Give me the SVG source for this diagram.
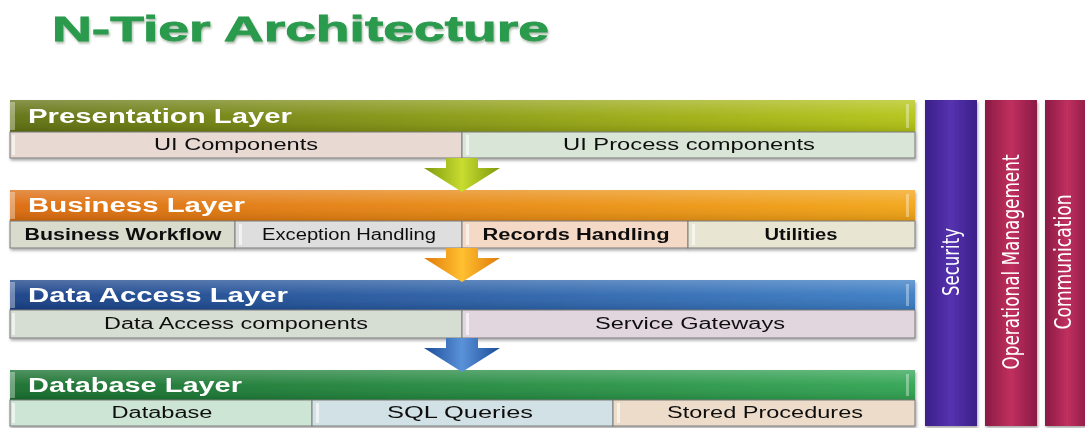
<svg xmlns="http://www.w3.org/2000/svg" width="1085" height="428" viewBox="0 0 1085 428">
<defs>
<linearGradient id="gPres" x1="0" y1="0" x2="1" y2="0"><stop offset="0" stop-color="#5f7010"/><stop offset="1" stop-color="#b4c414"/></linearGradient>
<linearGradient id="gBus" x1="0" y1="0" x2="1" y2="0"><stop offset="0" stop-color="#dc6a0c"/><stop offset="1" stop-color="#f2a414"/></linearGradient>
<linearGradient id="gData" x1="0" y1="0" x2="1" y2="0"><stop offset="0" stop-color="#173f86"/><stop offset="1" stop-color="#3a7cc4"/></linearGradient>
<linearGradient id="gDb" x1="0" y1="0" x2="1" y2="0"><stop offset="0" stop-color="#166e2c"/><stop offset="1" stop-color="#30a452"/></linearGradient>
<linearGradient id="gShine" x1="0" y1="0" x2="0" y2="1"><stop offset="0" stop-color="#fff" stop-opacity="0.25"/><stop offset="0.5" stop-color="#fff" stop-opacity="0.05"/><stop offset="1" stop-color="#000" stop-opacity="0.12"/></linearGradient>
<linearGradient id="gSec" x1="0" y1="0" x2="1" y2="0"><stop offset="0" stop-color="#3a2088"/><stop offset="0.5" stop-color="#5632b0"/><stop offset="1" stop-color="#3a2088"/></linearGradient>
<linearGradient id="gOps" x1="0" y1="0" x2="1" y2="0"><stop offset="0" stop-color="#8a1a44"/><stop offset="0.5" stop-color="#c0305e"/><stop offset="1" stop-color="#8a1a44"/></linearGradient>
<linearGradient id="gArrG" x1="0" y1="0" x2="1" y2="0"><stop offset="0" stop-color="#7e9a0e"/><stop offset="0.5" stop-color="#c8dc30"/><stop offset="1" stop-color="#7e9a0e"/></linearGradient>
<linearGradient id="gArrO" x1="0" y1="0" x2="1" y2="0"><stop offset="0" stop-color="#e07a0a"/><stop offset="0.5" stop-color="#ffc030"/><stop offset="1" stop-color="#e07a0a"/></linearGradient>
<linearGradient id="gArrB" x1="0" y1="0" x2="1" y2="0"><stop offset="0" stop-color="#1c4c9a"/><stop offset="0.5" stop-color="#5a92d8"/><stop offset="1" stop-color="#1c4c9a"/></linearGradient>
<filter id="sh" x="-5%" y="-20%" width="110%" height="150%"><feDropShadow dx="1" dy="2" stdDeviation="1.5" flood-color="#000" flood-opacity="0.35"/></filter>
<filter id="tsh" x="-5%" y="-20%" width="110%" height="150%"><feDropShadow dx="1" dy="2" stdDeviation="1.2" flood-color="#557755" flood-opacity="0.5"/></filter>
</defs>
<style>
.title{font-family:"Liberation Sans",Arial,sans-serif;font-weight:bold;font-size:35px;fill:#2a9a4e;stroke:#2a9a4e;stroke-width:0.8}
.hdr{font-family:"Liberation Sans",Arial,sans-serif;font-weight:bold;font-size:20px;fill:#fff}
.cell{stroke:#7a7a7a;stroke-width:1}
.ct{font-family:"Liberation Sans",Arial,sans-serif;font-size:16px;fill:#111;text-anchor:middle}
.vt{font-family:"Liberation Sans Narrow","DejaVu Sans Condensed","Liberation Sans",sans-serif;font-size:23px;fill:#fff;text-anchor:middle;font-stretch:condensed}
.lstrip{fill:#fff;opacity:0.35}
.bev{fill:#fff;opacity:0.6}
</style>
<rect width="1085" height="428" fill="#fff"/>
<text class="title" x="52" y="41" filter="url(#tsh)" textLength="497" lengthAdjust="spacingAndGlyphs">N-Tier Architecture</text>

<g id="presentation-layer" filter="url(#sh)">
<rect x="10" y="100" width="905" height="32" fill="url(#gPres)"/>
<rect x="10" y="100" width="905" height="32" fill="url(#gShine)"/>
<rect x="10" y="102" width="5" height="28" class="lstrip"/>
<rect x="906" y="104" width="3" height="24" class="lstrip"/>
<text class="hdr" x="28" y="123" textLength="264" lengthAdjust="spacingAndGlyphs">Presentation Layer</text>
<g id="ui-components"><rect class="cell" x="10" y="132" width="452" height="26" fill="#e8d9d2"/><rect class="bev" x="12" y="135" width="3" height="20"/><text class="ct" x="236" y="150" textLength="164" lengthAdjust="spacingAndGlyphs">UI Components</text></g>
<g id="ui-process-components"><rect class="cell" x="462" y="132" width="453" height="26" fill="#d9e5d6"/><rect class="bev" x="466" y="135" width="3" height="20"/><text class="ct" x="689" y="150" textLength="252" lengthAdjust="spacingAndGlyphs">UI Process components</text></g>
</g>

<g id="business-layer" filter="url(#sh)">
<rect x="10" y="190" width="905" height="31" fill="url(#gBus)"/>
<rect x="10" y="190" width="905" height="31" fill="url(#gShine)"/>
<rect x="10" y="192" width="5" height="27" class="lstrip"/>
<rect x="906" y="194" width="3" height="23" class="lstrip"/>
<text class="hdr" x="28" y="212" textLength="217" lengthAdjust="spacingAndGlyphs">Business Layer</text>
<g id="business-workflow"><rect class="cell" x="10" y="221" width="225" height="27" fill="#d9dccd"/><text class="ct" x="123" y="240" font-weight="bold" textLength="197" lengthAdjust="spacingAndGlyphs">Business Workflow</text></g>
<g id="exception-handling"><rect class="cell" x="235" y="221" width="227" height="27" fill="#dedede"/><rect class="bev" x="239" y="224" width="3" height="21"/><text class="ct" x="349" y="240" fill="#444" font-size="15" textLength="174" lengthAdjust="spacingAndGlyphs">Exception Handling</text></g>
<g id="records-handling"><rect class="cell" x="462" y="221" width="226" height="27" fill="#f4d9c6"/><rect class="bev" x="466" y="224" width="3" height="21"/><text class="ct" x="576" y="240" font-weight="bold" font-size="16" textLength="187" lengthAdjust="spacingAndGlyphs">Records Handling</text></g>
<g id="utilities"><rect class="cell" x="688" y="221" width="227" height="27" fill="#e8e5d2"/><rect class="bev" x="692" y="224" width="3" height="21"/><text class="ct" x="801" y="240" font-weight="bold" textLength="73" lengthAdjust="spacingAndGlyphs">Utilities</text></g>
</g>

<g id="data-access-layer" filter="url(#sh)">
<rect x="10" y="280" width="905" height="30" fill="url(#gData)"/>
<rect x="10" y="280" width="905" height="30" fill="url(#gShine)"/>
<rect x="10" y="282" width="5" height="26" class="lstrip"/>
<rect x="906" y="284" width="3" height="22" class="lstrip"/>
<text class="hdr" x="28" y="302" textLength="260" lengthAdjust="spacingAndGlyphs">Data Access  Layer</text>
<g id="data-access-components"><rect class="cell" x="10" y="310" width="452" height="28" fill="#d6ddd2"/><rect class="bev" x="12" y="313" width="3" height="22"/><text class="ct" x="236" y="329" textLength="264" lengthAdjust="spacingAndGlyphs">Data Access components</text></g>
<g id="service-gateways"><rect class="cell" x="462" y="310" width="453" height="28" fill="#e2d6de"/><rect class="bev" x="466" y="313" width="3" height="22"/><text class="ct" x="690" y="329" textLength="190" lengthAdjust="spacingAndGlyphs">Service Gateways</text></g>
</g>

<g id="database-layer" filter="url(#sh)">
<rect x="10" y="370" width="905" height="30" fill="url(#gDb)"/>
<rect x="10" y="370" width="905" height="30" fill="url(#gShine)"/>
<rect x="10" y="372" width="5" height="26" class="lstrip"/>
<rect x="906" y="374" width="3" height="22" class="lstrip"/>
<text class="hdr" x="28" y="392" textLength="214" lengthAdjust="spacingAndGlyphs">Database Layer</text>
<g id="database"><rect class="cell" x="10" y="400" width="302" height="26" fill="#cde5d5"/><rect class="bev" x="12" y="403" width="3" height="20"/><text class="ct" x="162" y="418" textLength="101" lengthAdjust="spacingAndGlyphs">Database</text></g>
<g id="sql-queries"><rect class="cell" x="312" y="400" width="301" height="26" fill="#d2e1e5"/><rect class="bev" x="316" y="403" width="3" height="20"/><text class="ct" x="460" y="418" textLength="146" lengthAdjust="spacingAndGlyphs">SQL Queries</text></g>
<g id="stored-procedures"><rect class="cell" x="613" y="400" width="302" height="26" fill="#eddcc9"/><rect class="bev" x="617" y="403" width="3" height="20"/><text class="ct" x="765" y="418" textLength="196" lengthAdjust="spacingAndGlyphs">Stored Procedures</text></g>
</g>

<g id="security" filter="url(#sh)">
<rect x="925" y="100" width="52" height="326" fill="url(#gSec)"/>
<text class="vt" transform="translate(959 262) rotate(-90)" textLength="68" lengthAdjust="spacingAndGlyphs">Security</text>
</g>
<g id="operational-management" filter="url(#sh)">
<rect x="985" y="100" width="52" height="326" fill="url(#gOps)"/>
<text class="vt" transform="translate(1019 262) rotate(-90)" textLength="215" lengthAdjust="spacingAndGlyphs">Operational Management</text>
</g>
<g id="communication" filter="url(#sh)">
<rect x="1045" y="100" width="45" height="326" fill="url(#gOps)"/>
<text class="vt" transform="translate(1071 262) rotate(-90)" textLength="135" lengthAdjust="spacingAndGlyphs">Communication</text>
</g>

<g id="connectors">
<path d="M446 158 H478 V168 H500 L462 192 L424 168 H446 Z" fill="url(#gArrG)"/>
<path d="M446 248 H478 V258 H500 L462 282 L424 258 H446 Z" fill="url(#gArrO)"/>
<path d="M446 338 H478 V348 H500 L462 372 L424 348 H446 Z" fill="url(#gArrB)"/>
</g>
</svg>
